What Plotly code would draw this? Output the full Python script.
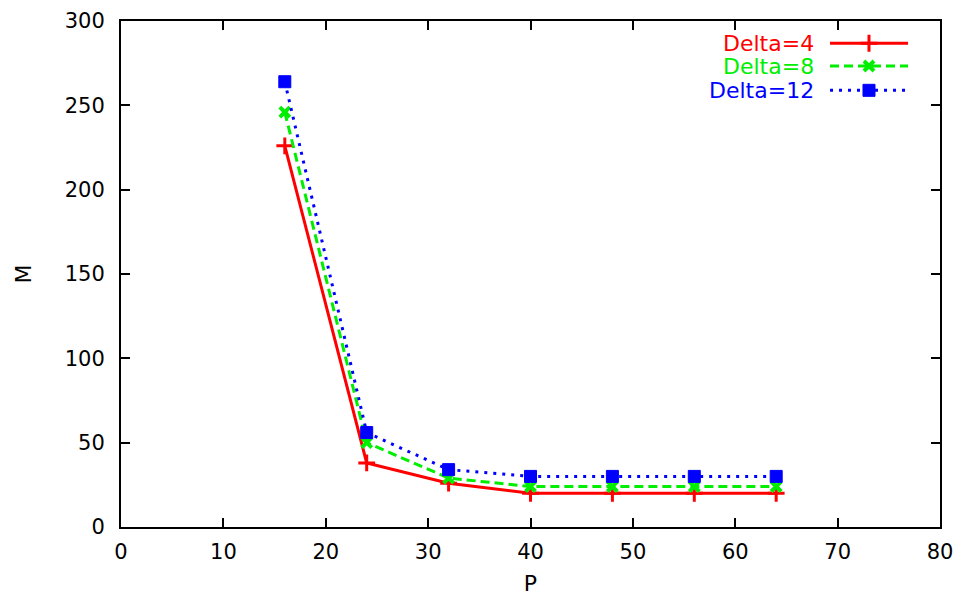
import plotly.graph_objects as go

# Data
P = [16, 24, 32, 40, 48, 56, 64]
m_delta4 = [226, 38, 26, 20, 20, 20, 20]
m_delta8 = [246, 50, 29, 24, 24, 24, 24]
m_delta12 = [264, 56, 34, 30, 30, 30, 30]

series_names = ["Delta=4", "Delta=8", "Delta=12"]
series_values = [m_delta4, m_delta8, m_delta12]
colors = ["#ff0000", "#00ee00", "#0000ff"]
dashes = ["solid", "9px,5px", "3px,6px"]
symbols = ["cross-thin-open", "x-thin-open", "square"]
sizes = [12, 10, 12]
mline = [3, 4, 1]

x_ticks = [0, 10, 20, 30, 40, 50, 60, 70, 80]
y_ticks = [0, 50, 100, 150, 200, 250, 300]

FONT = "DejaVu Sans, Liberation Sans, Arial, sans-serif"
FS_TICK = 21
FS_TEXT = 22
W, H = 961, 596
L, R, T, B = 121, 21, 21, 69

fig = go.Figure()

for name, vals, c, d, s, sz, mw in zip(series_names, series_values, colors, dashes, symbols, sizes, mline):
    fig.add_trace(go.Scatter(
        x=P, y=vals, mode="lines+markers", name=name, showlegend=False,
        line=dict(color=c, width=3, dash=d),
        marker=dict(symbol=s, size=sz, color=c, line=dict(color=c, width=mw)),
    ))

# Key in the upper-right corner: coloured labels, then a line sample with its marker
key_y = [0.956, 0.911, 0.863]
for name, c, d, s, sz, mw, ky in zip(series_names, colors, dashes, symbols, sizes, mline, key_y):
    fig.add_trace(go.Scatter(
        x=[0.8657, 0.9133, 0.961], y=[ky, ky, ky], xaxis="x2", yaxis="y2",
        mode="lines", showlegend=False, hoverinfo="skip",
        line=dict(color=c, width=3, dash=d),
    ))
    fig.add_trace(go.Scatter(
        x=[0.9133], y=[ky], xaxis="x2", yaxis="y2",
        mode="markers", showlegend=False, hoverinfo="skip",
        marker=dict(symbol=s, size=sz, color=c, line=dict(color=c, width=mw)),
    ))
    fig.add_annotation(
        x=0.8475, y=ky, xref="x2", yref="y2", text=name, showarrow=False,
        xanchor="right", yanchor="middle", borderpad=0,
        font=dict(family=FONT, size=FS_TEXT, color=c),
    )

axis_common = dict(
    showgrid=False, zeroline=False, showline=True, linecolor="black", linewidth=2,
    mirror="allticks", ticks="inside", ticklen=9, tickwidth=1.5, tickcolor="black",
    tickfont=dict(family=FONT, size=FS_TICK, color="black"), automargin=False,
)

fig.update_layout(
    width=W, height=H,
    margin=dict(l=L, r=R, t=T, b=B),
    paper_bgcolor="white", plot_bgcolor="white",
    xaxis=dict(range=[0, 80], tickvals=x_ticks, ticktext=[str(v) for v in x_ticks],
               title=dict(text="P", font=dict(family=FONT, size=FS_TEXT, color="black"), standoff=14),
               ticklabelstandoff=5, **axis_common),
    yaxis=dict(range=[0, 300], tickvals=y_ticks, ticktext=[str(v) for v in y_ticks],
               title=dict(text="M", font=dict(family=FONT, size=FS_TEXT, color="black"), standoff=27),
               ticklabelstandoff=10, **axis_common),
    xaxis2=dict(range=[0, 1], overlaying="x", visible=False, fixedrange=True),
    yaxis2=dict(range=[0, 1], overlaying="y", visible=False, fixedrange=True),
    showlegend=False,
)

fig.write_html("out.html")
